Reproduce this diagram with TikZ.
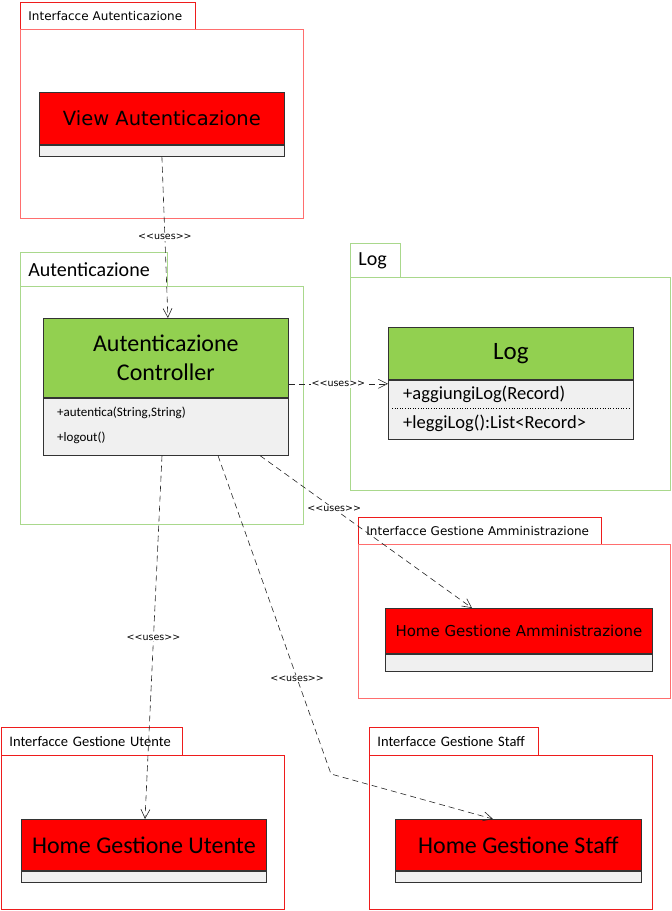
\documentclass[tikz,border=0pt]{standalone}
\usepackage{fontspec}
\usepackage{xcolor}
\usepackage{tikz}
\usetikzlibrary{arrows.meta}
\newfontfamily\carlito{Carlito}
\newfontfamily\dejavu{DejaVu Sans}

\definecolor{tabred}{HTML}{EE1C1C}
\definecolor{bodyred}{HTML}{FF6E6E}
\definecolor{pkggreen}{HTML}{A9D88C}
\definecolor{hdgreen}{HTML}{92D050}
\definecolor{compgray}{HTML}{F0F0F0}
\definecolor{edgegray}{HTML}{333333}

\tikzset{
    pkgtab/.style={draw, fill=white, line width=0.8pt, anchor=north west, inner xsep=8pt, inner ysep=0pt, align=left, minimum height=#1},
    pkgtab/.default=27pt,
    pkgbody/.style={draw, line width=0.8pt, anchor=north west, inner sep=0pt},
    clshead/.style={draw=edgegray, line width=0.8pt, anchor=north west, inner sep=0pt, align=center},
    clscomp/.style={draw=edgegray, fill=compgray, line width=0.8pt, anchor=north, inner sep=0pt},
    uses/.style={draw=black!85, line width=0.6pt, dash pattern=on 6pt off 4pt, -{Straight Barb[length=9pt,width=9pt]}},
    useslbl/.style={fill=white, inner sep=1pt, font=\dejavu\fontsize{9.5}{10}\selectfont},
}

\begin{document}
\begin{tikzpicture}[x=1pt, y=-1pt]
    \useasboundingbox (0,0) rectangle (672,911);

    % packages
    \node[pkgtab, draw=tabred, text width=159pt, font=\dejavu\fontsize{12}{14}\selectfont] (pAuthIntTab) at (20,2) {Interfacce Autenticazione};
    \node[pkgbody, draw=bodyred, minimum width=283pt, minimum height=189pt] (pAuthInt) at (20,29) {};

    \node[pkgtab=34pt, draw=pkggreen, text width=131pt, font=\carlito\fontsize{20}{22}\selectfont] (pAuthTab) at (20,252) {Autenticazione};
    \node[pkgbody, draw=pkggreen, minimum width=283pt, minimum height=238pt] (pAuth) at (20,286) {};

    \node[pkgtab=34pt, draw=pkggreen, text width=34pt, font=\carlito\fontsize{20}{22}\selectfont] (pLogTab) at (350,243) {Log};
    \node[pkgbody, draw=pkggreen, minimum width=320pt, minimum height=213pt] (pLog) at (350,277) {};

    \node[pkgtab, draw=tabred, text width=227pt, font=\dejavu\fontsize{12}{14}\selectfont] (pAdminTab) at (358,517) {Interfacce Gestione Amministrazione};
    \node[pkgbody, draw=bodyred, minimum width=312pt, minimum height=154pt] (pAdmin) at (358,544) {};

    \node[pkgtab=28pt, draw=tabred, text width=165pt, font=\carlito\fontsize{14.5}{16}\selectfont] (pUserTab) at (1,727) {Interfacce Gestione Utente};
    \node[pkgbody, draw=tabred, minimum width=283pt, minimum height=154pt] (pUser) at (1,755) {};

    \node[pkgtab=28pt, draw=tabred, text width=153pt, font=\carlito\fontsize{14.5}{16}\selectfont] (pStaffTab) at (369,727) {Interfacce Gestione Staff};
    \node[pkgbody, draw=tabred, minimum width=283pt, minimum height=154pt] (pStaff) at (369,755) {};

    % classes
    \node[clshead, fill=red, minimum width=245pt, minimum height=52pt, font=\dejavu\fontsize{19.5}{22}\selectfont] (viewHead) at (39,92) {View Autenticazione};
    \node[clscomp, minimum width=245pt, minimum height=11pt] (viewComp) at (viewHead.south) {};

    \node[clshead, fill=hdgreen, minimum width=245pt, minimum height=79pt, font=\carlito\fontsize{24}{29}\selectfont] (ctrlHead) at (43,318) {Autenticazione\\Controller};
    \node[clscomp, minimum width=245pt, minimum height=57pt] (ctrlComp) at (ctrlHead.south) {};
    \node[anchor=west, inner sep=0pt, font=\carlito\fontsize{13}{15}\selectfont] (mAutentica) at (57,413) {+autentica(String,String)};
    \node[anchor=west, inner sep=0pt, font=\carlito\fontsize{13}{15}\selectfont] (mLogout) at (57,438) {+logout()};

    \node[clshead, fill=hdgreen, minimum width=245pt, minimum height=52pt, font=\carlito\fontsize{25}{28}\selectfont] (logHead) at (388,327) {Log};
    \node[clscomp, minimum width=245pt, minimum height=59pt] (logComp) at (logHead.south) {};
    \node[anchor=west, inner sep=0pt, font=\carlito\fontsize{18.5}{21}\selectfont] (mAggiungi) at (403,394) {+aggiungiLog(Record)};
    \node[anchor=west, inner sep=0pt, font=\carlito\fontsize{18.5}{21}\selectfont] (mLeggi) at (403,423) {+leggiLog():List<Record>};
    \draw[dotted, line width=0.6pt] (392,408) -- (629,408);

    \node[clshead, fill=red, minimum width=267pt, minimum height=45pt, font=\dejavu\fontsize{15}{18}\selectfont] (adminHead) at (385,608) {Home Gestione Amministrazione};
    \node[clscomp, minimum width=267pt, minimum height=17pt] (adminComp) at (adminHead.south) {};

    \node[clshead, fill=red, minimum width=245pt, minimum height=51pt, font=\carlito\fontsize{24}{27}\selectfont] (userHead) at (21,819) {Home Gestione Utente};
    \node[clscomp, minimum width=245pt, minimum height=11pt] (userComp) at (userHead.south) {};

    \node[clshead, fill=red, minimum width=246pt, minimum height=51pt, font=\carlito\fontsize{24}{27}\selectfont] (staffHead) at (395,819) {Home Gestione Staff};
    \node[clscomp, minimum width=246pt, minimum height=11pt] (staffComp) at (staffHead.south) {};

    % dependencies
    \coordinate (staffBend) at (331,774);

    \draw[uses] (viewComp.south) -- node[useslbl, pos=0.5] {<<uses>>} ([xshift=2pt]ctrlHead.north);
    \draw[uses] ([yshift=14pt]ctrlHead.south east) -- node[useslbl, pos=0.5] {<<uses>>} ([yshift=-4pt]logComp.north west);
    \draw[uses] ([xshift=217pt]ctrlComp.south west) -- node[useslbl, pos=0.35] {<<uses>>} ([xshift=87pt]adminHead.north west);
    \draw[uses] ([xshift=119pt]ctrlComp.south west) -- node[useslbl, pos=0.5] {<<uses>>} ([xshift=124pt]userHead.north west);
    \draw[uses] ([xshift=175pt]ctrlComp.south west) -- node[useslbl, pos=0.7] {<<uses>>} (staffBend) -- ([xshift=98pt]staffHead.north west);

\end{tikzpicture}
\end{document}
